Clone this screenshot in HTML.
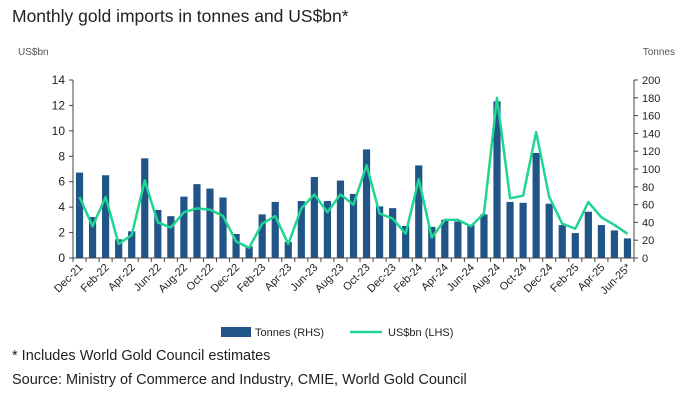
<!DOCTYPE html>
<html><head><meta charset="utf-8">
<style>
body{margin:0;background:#fff;width:692px;height:406px;overflow:hidden;font-family:"Liberation Sans",sans-serif;}
svg text{font-family:"Liberation Sans",sans-serif;}
</style></head>
<body>
<svg id="chart" width="692" height="406" xmlns="http://www.w3.org/2000/svg">
<text x="12" y="22" font-size="17.5" fill="#222">Monthly gold imports in tonnes and US$bn*</text>
<text x="18" y="55" font-size="10" fill="#555">US$bn</text>
<text x="675" y="55" font-size="10" fill="#555" text-anchor="end">Tonnes</text>
<g id="grid"></g><g id="bars"></g><g id="line"></g><g id="axes"></g>
<g>
<rect x="221" y="327" width="30" height="10" fill="#215487"/>
<text x="255" y="336" font-size="11" fill="#222">Tonnes (RHS)</text>
<line x1="350" y1="332" x2="382" y2="332" stroke="#1ed592" stroke-width="2.5"/>
<text x="388" y="336" font-size="11" fill="#222">US$bn (LHS)</text>
</g>
<text x="12" y="360" font-size="14.5" fill="#222">* Includes World Gold Council estimates</text>
<text x="12" y="384" font-size="14.5" fill="#222">Source: Ministry of Commerce and Industry, CMIE, World Gold Council</text>
</svg>
<script>
const months=["Dec-21","Jan-22","Feb-22","Mar-22","Apr-22","May-22","Jun-22","Jul-22","Aug-22","Sep-22","Oct-22","Nov-22","Dec-22","Jan-23","Feb-23","Mar-23","Apr-23","May-23","Jun-23","Jul-23","Aug-23","Sep-23","Oct-23","Nov-23","Dec-23","Jan-24","Feb-24","Mar-24","Apr-24","May-24","Jun-24","Jul-24","Aug-24","Sep-24","Oct-24","Nov-24","Dec-24","Jan-25","Feb-25","Mar-25","Apr-25","May-25","Jun-25*"];
const tonnes=[96,46,93,21,30,112,54,47,69,83,78,68,27,13,49,63,18,64,91,64,87,72,122,58,56,36,104,35,43,41,37,49,176,63,62,118,61,37,28,52,37,31,22];
const usdbn=[4.8,2.5,4.8,1.1,1.8,6.1,2.8,2.4,3.6,3.9,3.8,3.3,1.3,0.8,2.7,3.3,1.1,3.9,5.0,3.6,5.0,4.2,7.3,3.5,3.1,1.9,6.2,1.6,3.0,3.0,2.5,3.5,12.6,4.7,4.9,9.9,4.8,2.7,2.3,4.4,3.2,2.6,1.9];
const leftTicks=[0,2,4,6,8,10,12,14];
const rightTicks=[0,20,40,60,80,100,120,140,160,180,200];
const NS="http://www.w3.org/2000/svg";
const X0=73,X1=634,Y0=258,Y1=80;
const step=(X1-X0)/months.length;
const xC=i=>X0+step*(i+0.5);
const yL=v=>Y0-(v/14)*(Y0-Y1);
const yR=v=>Y0-(v/200)*(Y0-Y1);
function mk(tag,attrs,parent){const e=document.createElementNS(NS,tag);for(const k in attrs)e.setAttribute(k,attrs[k]);document.getElementById(parent).appendChild(e);return e;}
tonnes.forEach((t,i)=>{
 const r=mk('rect',{x:xC(i)-3.6,y:yR(t),width:7.2,height:Y0-yR(t),fill:'#215487'},'bars');
 
 
});
const pl=mk('polyline',{points:usdbn.map((v,i)=>xC(i)+','+yL(v)).join(' '),fill:'none',stroke:'#1ed592','stroke-width':2.5,'stroke-linejoin':'round'},'line');


const la=mk('line',{x1:X0,y1:Y1,x2:X0,y2:Y0,stroke:'#444'},'axes');


const ra=mk('line',{x1:X1,y1:Y1,x2:X1,y2:Y0,stroke:'#444'},'axes');


const xa=mk('line',{x1:X0,y1:Y0,x2:X1,y2:Y0,stroke:'#444'},'axes');


leftTicks.forEach(v=>{
 mk('line',{x1:X0-4,y1:yL(v),x2:X0,y2:yL(v),stroke:'#444'},'axes');
 const t=mk('text',{x:X0-8,y:yL(v)+4,'font-size':12,'text-anchor':'end',fill:'#222'},'axes');t.textContent=v;
 
 
});
rightTicks.forEach(v=>{
 mk('line',{x1:X1,y1:yR(v),x2:X1+4,y2:yR(v),stroke:'#444'},'axes');
 const t=mk('text',{x:X1+8,y:yR(v)+4,'font-size':11,fill:'#222'},'axes');t.textContent=v;
 
 
});
for(let i=0;i<=months.length;i++){mk('line',{x1:X0+step*i,y1:Y0,x2:X0+step*i,y2:Y0+4,stroke:'#444'},'axes');}
months.forEach((m,i)=>{
 if(i%2)return;
 const x=xC(i)+4,y=Y0+10;
 const t=mk('text',{x:x,y:y,'font-size':11,'text-anchor':'end',fill:'#222',transform:`rotate(-45 ${x} ${y})`},'axes');t.textContent=m;
 
 
});
</script>
</body></html>
